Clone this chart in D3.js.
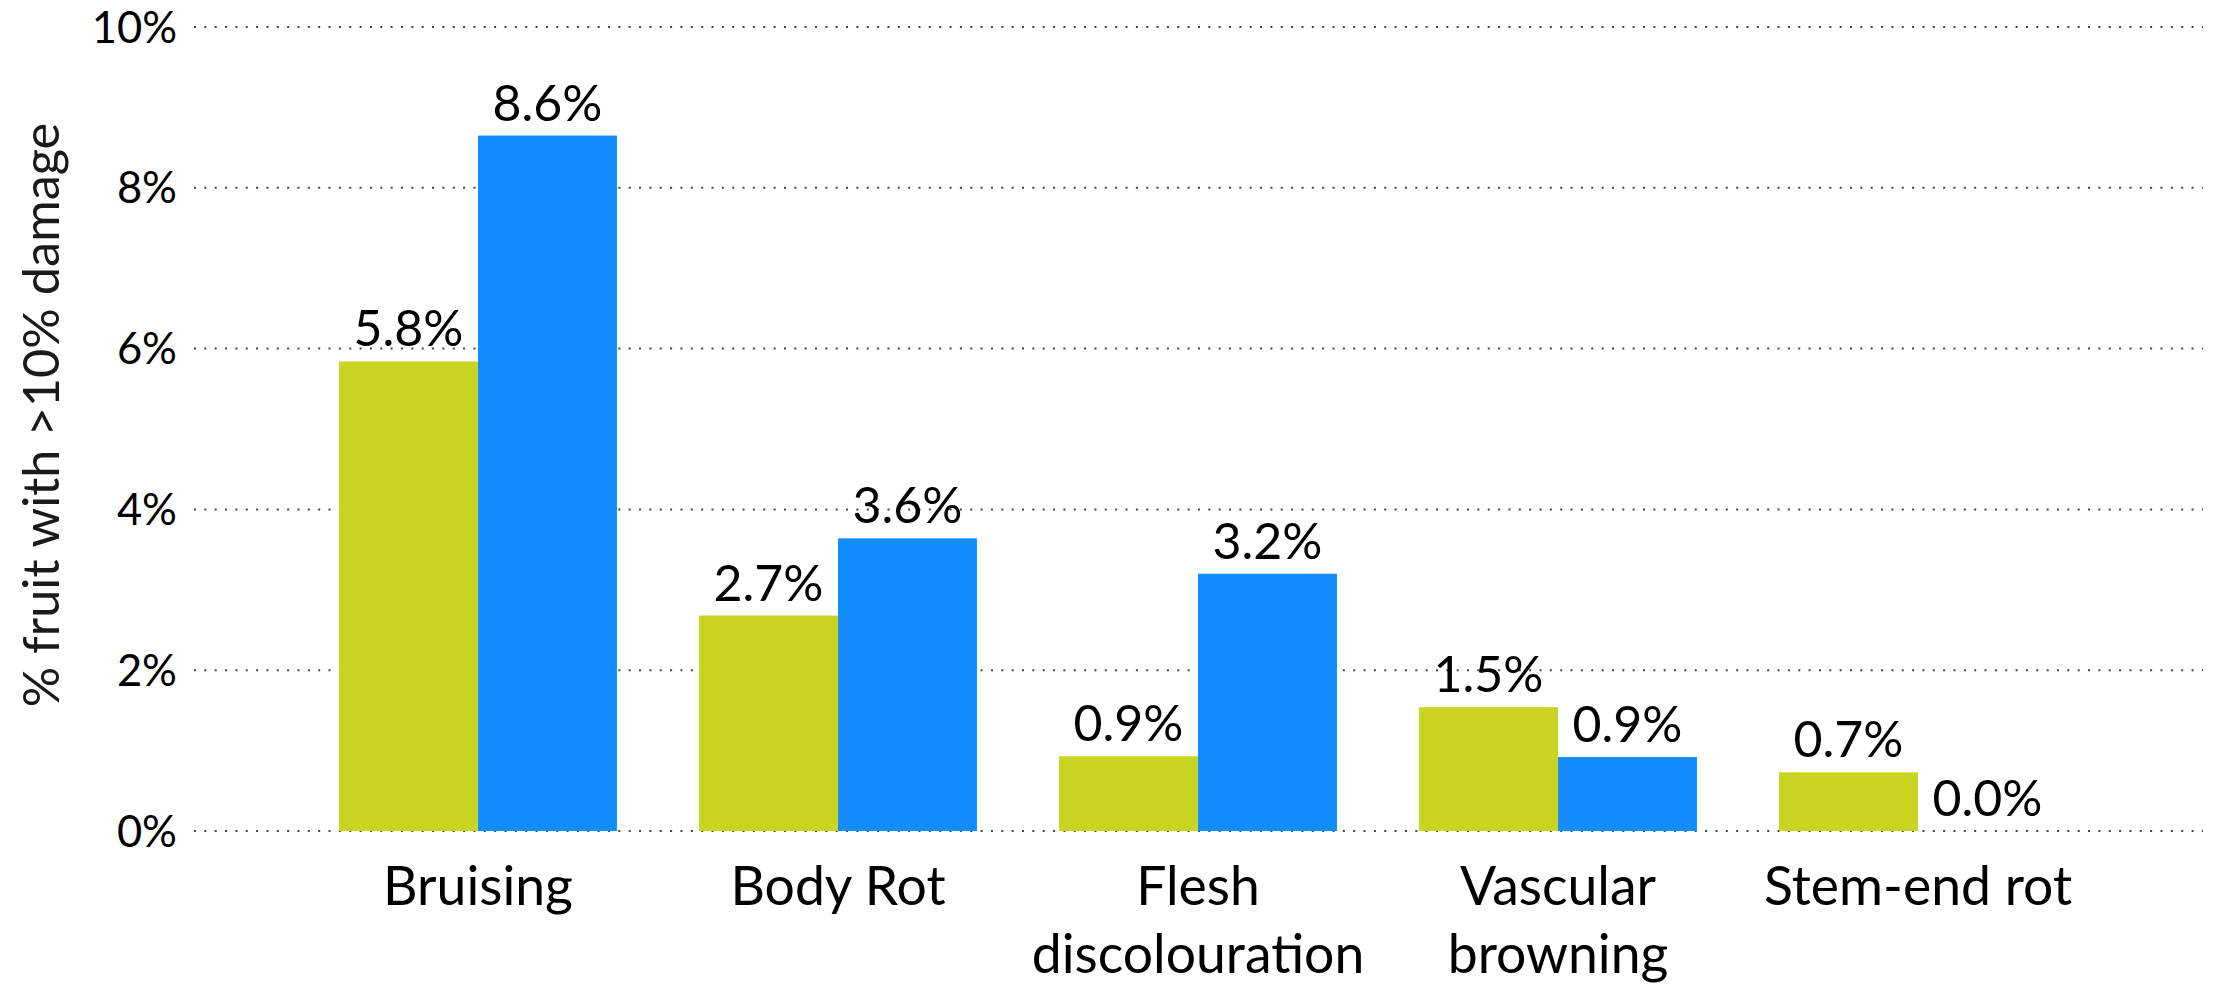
<!DOCTYPE html>
<html>
<head>
<meta charset="utf-8">
<title>Fruit damage</title>
<script src="https://cdn.jsdelivr.net/npm/d3@7"></script>
<style>
  html, body { margin: 0; padding: 0; background: #fff; }
  svg { display: block; font-family: Lato, "Open Sans", sans-serif; }
  .grid line { stroke: #444; stroke-width: 2; stroke-dasharray: 2 8.35; }
  .tick-label { font-size: 43.5px; fill: #000; }
  .cat-label { font-size: 53.5px; fill: #000; }
  .value-label { font-size: 50px; fill: #000; }
  .axis-title { font-size: 50.5px; fill: #1a1a1a; }
</style>
</head>
<body>
<div id="chart"></div>
<script>
// Categories along the x axis (each may wrap onto two lines).
var categories = [
  ['Bruising'],
  ['Body Rot'],
  ['Flesh', 'discolouration'],
  ['Vascular', 'browning'],
  ['Stem-end rot']
];

// Two series, % of fruit (as fractions) with >10% damage.
var seriesGreen = [0.0584, 0.0268, 0.0093, 0.0154, 0.0073];
var seriesBlue  = [0.0865, 0.0364, 0.0320, 0.0092, 0.0000];

var seriesColors = ['#c9d423', '#138cff'];

// y axis tick values
var yTicks = [0, 0.02, 0.04, 0.06, 0.08, 0.10];

var yTitle = '% fruit with >10% damage';

;(function() {
  'use strict';

  var width = 2219,
      height = 986;

  // Plot area; the gridlines run a bit wider than the category band range.
  var plot = {top: 27, bottom: 831, left: 298, right: 2098, gridLeft: 194, gridRight: 2203};

  var svg = d3.select('#chart').append('svg')
      .attr('width', width)
      .attr('height', height);

  var names = categories.map(function(c) { return c.join(' '); });

  var x0 = d3.scaleBand()
      .domain(names)
      .range([plot.left, plot.right])
      .paddingInner(0.228)
      .paddingOuter(0.114);

  var x1 = d3.scaleBand()
      .domain([0, 1])
      .range([0, x0.bandwidth()]);

  var y = d3.scaleLinear()
      .domain([0, 0.10])
      .range([plot.bottom, plot.top]);

  var fmt = d3.format('.0%');
  var fmtValue = d3.format('.1%');

  // Dotted gridlines go underneath the bars.
  var grid = svg.append('g').attr('class', 'grid');
  grid.selectAll('line')
      .data(yTicks)
      .enter().append('line')
      .attr('x1', plot.gridLeft)
      .attr('x2', plot.gridRight)
      .attr('y1', function(d) { return y(d); })
      .attr('y2', function(d) { return y(d); });

  svg.append('g').selectAll('text')
      .data(yTicks)
      .enter().append('text')
      .attr('class', 'tick-label')
      .attr('x', 177)
      .attr('y', function(d) { return y(d); })
      .attr('dy', '0.36em')
      .attr('text-anchor', 'end')
      .text(fmt);

  // Build a flat list of bars from the two series.
  var rows = names.map(function(n, i) {
    return {name: n, values: [seriesGreen[i], seriesBlue[i]]};
  });

  var groups = svg.append('g').selectAll('g')
      .data(rows)
      .enter().append('g')
      .attr('transform', function(d) { return 'translate(' + x0(d.name) + ',0)'; });

  var bars = groups.selectAll('g')
      .data(function(d) {
        return d.values.map(function(v, k) { return {k: k, v: v}; });
      })
      .enter().append('g');

  bars.append('rect')
      .attr('x', function(d) { return x1(d.k); })
      .attr('y', function(d) { return y(d.v); })
      .attr('width', x1.bandwidth())
      .attr('height', function(d) { return y(0) - y(d.v); })
      .attr('fill', function(d) { return seriesColors[d.k]; });

  bars.append('text')
      .attr('class', 'value-label')
      .attr('x', function(d) { return x1(d.k) + x1.bandwidth() / 2; })
      .attr('y', function(d) { return y(d.v) - 15; })
      .attr('text-anchor', 'middle')
      .text(function(d) { return fmtValue(d.v); });

  // Category labels, wrapped onto lines.
  var cat = svg.append('g').selectAll('text')
      .data(categories)
      .enter().append('text')
      .attr('class', 'cat-label')
      .attr('text-anchor', 'middle')
      .attr('transform', function(d, i) {
        return 'translate(' + (x0(names[i]) + x0.bandwidth() / 2) + ',905)';
      });

  cat.selectAll('tspan')
      .data(function(d) { return d; })
      .enter().append('tspan')
      .attr('x', 0)
      .attr('y', function(d, i) { return i * 68; })
      .text(function(d) { return d; });

  svg.append('text')
      .attr('class', 'axis-title')
      .attr('text-anchor', 'middle')
      .attr('transform', 'translate(59,415) rotate(-90)')
      .text(yTitle);
}());
</script>
</body>
</html>
